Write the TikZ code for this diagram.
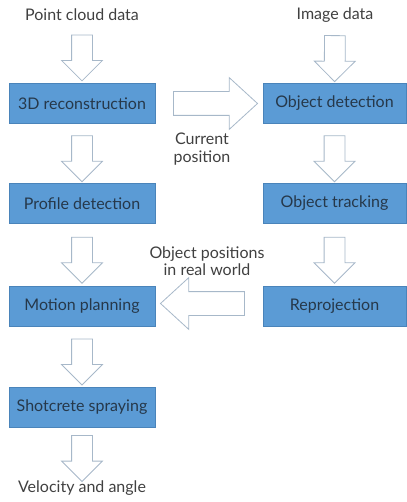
\documentclass[tikz,border=0pt]{standalone}
\usepackage{fontspec}
\setmainfont{Lato}
\usetikzlibrary{shapes.arrows}
\definecolor{boxblue}{HTML}{5B9BD5}
\definecolor{boxedge}{HTML}{4A84BA}
\definecolor{arrowedge}{HTML}{A7B8C9}
\definecolor{labelgray}{HTML}{404040}
\definecolor{boxtext}{HTML}{26384A}
\tikzset{
	stage/.style={rectangle, fill=boxblue, draw=boxedge, line width=0.4pt, minimum width=146pt, minimum height=40pt, inner sep=0pt, text=boxtext, font=\fontsize{16}{19}\selectfont},
	note/.style={inner sep=1pt, text=labelgray, align=center, font=\fontsize{16}{17.5}\selectfont},
	flowarrow/.style={single arrow, draw=arrowedge, fill=white, line width=0.8pt, inner xsep=0pt, inner ysep=10pt, single arrow head extend=10pt, single arrow tip angle=90, single arrow head indent=0pt, minimum height=46pt, sloped, allow upside down, midway},
	wideflow/.style={flowarrow, inner ysep=11.5pt, single arrow head extend=14pt, single arrow tip angle=85, minimum height=84pt}
}

\begin{document}
\begin{tikzpicture}[x=1pt, y=-1pt]
				\useasboundingbox (0,0) rectangle (406,502);
				
				\node[note] (pcd) at (82,15) {Point cloud data};
				\node[note] (img) at (335,15) {Image data};
				
				\node[stage] (recon) at (82,103.5) {3D reconstruction};
				\node[stage] (prof) at (82,203.5) {Profile detection};
				\node[stage] (plan) at (82,306.5) {Motion planning};
				\node[stage] (spray) at (82,407) {Shotcrete spraying};
				\node[note] (vel) at (82,488) {Velocity and angle};
				
				\node[stage, minimum width=143pt] (det) at (334.5,103.5) {Object detection};
				\node[stage, minimum width=143pt] (track) at (334.5,203.5) {Object tracking};
				\node[stage, minimum width=143pt] (reproj) at (334.5,306.5) {Reprojection};
				
				\node[note] (curpos) at (202,149) {Current\\position};
				\node[note] (objpos) at (207,261) {Object positions\\in real world};
				
				% left column
				\path (pcd) -- (recon) node[flowarrow] {};
				\path (recon) -- (prof) node[flowarrow] {};
				\path (prof) -- (plan) node[flowarrow] {};
				\path (plan) -- (spray) node[flowarrow] {};
				\path (spray) -- (vel) node[flowarrow] {};
				
				% right column
				\path (img) -- (det) node[flowarrow] {};
				\path (det) -- (track) node[flowarrow] {};
				\path (track) -- (reproj) node[flowarrow] {};
				
				\path (recon) -- (det) node[wideflow] {};
				\path (reproj) -- (plan) node[wideflow, yshift=-3pt] {};
			\end{tikzpicture}
\end{document}
